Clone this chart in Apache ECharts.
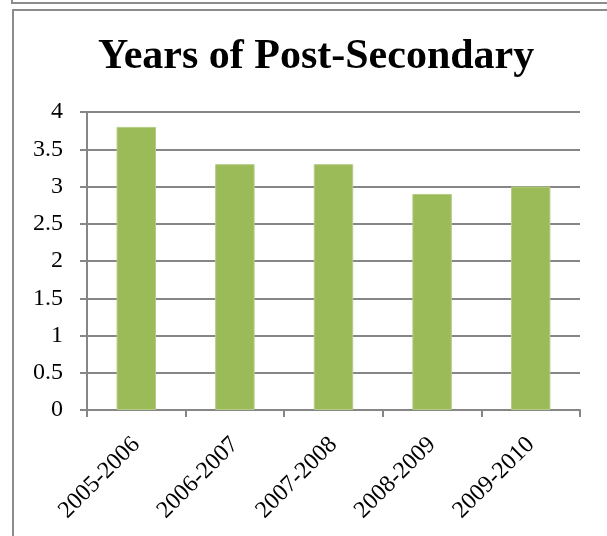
<!DOCTYPE html>
<html><head><meta charset="utf-8">
<script src="https://cdn.jsdelivr.net/npm/echarts@6/dist/echarts.min.js"></script>
<style>html,body{margin:0;padding:0;background:#fff}#c{width:607px;height:536px}</style>
</head><body><div id="c"></div>
<script>
const title = 'Years of Post-Secondary';
const categories = ['2005-2006','2006-2007','2007-2008','2008-2009','2009-2010'];
const values = [3.8, 3.3, 3.3, 2.9, 3.0];
const yTicks = [0, 0.5, 1, 1.5, 2, 2.5, 3, 3.5, 4];

const chart = echarts.init(document.getElementById('c'), null, {renderer:'canvas'});
const serif = '"Liberation Serif","Times New Roman",serif';
chart.setOption({
  animation: false,
  backgroundColor: '#fff',
  title: {
    text: title, left: 93, top: 31,
    textStyle: {fontFamily: serif, fontWeight: 'bold', fontSize: 42, color: '#000'}
  },
  grid: {left: 87, right: 27, top: 112, bottom: 126, containLabel: false},
  xAxis: {
    type: 'category', data: categories,
    axisLine: {show: true, lineStyle: {color: '#868686', width: 2}},
    axisTick: {show: true, length: 7, lineStyle: {color: '#868686', width: 2}},
    axisLabel: {rotate: 45, margin: 31, padding: 0, fontFamily: serif, fontSize: 24, color: '#000'}
  },
  yAxis: {
    type: 'value', min: 0, max: 4, interval: 0.5,
    axisLine: {show: true, lineStyle: {color: '#868686', width: 2}},
    axisTick: {show: true, length: 7, lineStyle: {color: '#868686', width: 2}},
    splitLine: {show: true, lineStyle: {color: '#868686', width: 2}},
    axisLabel: {margin: 24, fontFamily: serif, fontSize: 24, color: '#000',
      formatter: v => yTicks.includes(v) ? String(v) : ''}
  },
  series: [{
    type: 'bar', data: values, barWidth: '40%',
    itemStyle: {color: '#9BBB59', borderColor: '#B5CC88', borderWidth: 1}
  }],
  graphic: [
    {type: 'rect', shape: {x: 13, y: 10, width: 700, height: 600}, style: {fill: 'none', stroke: '#8c8c8c', lineWidth: 2}, z: 100},
    {type: 'polyline', shape: {points: [[12, 0], [12, 3], [607, 3]]}, style: {fill: 'none', stroke: '#8c8c8c', lineWidth: 2}, z: 100}
  ]
});
</script></body></html>
